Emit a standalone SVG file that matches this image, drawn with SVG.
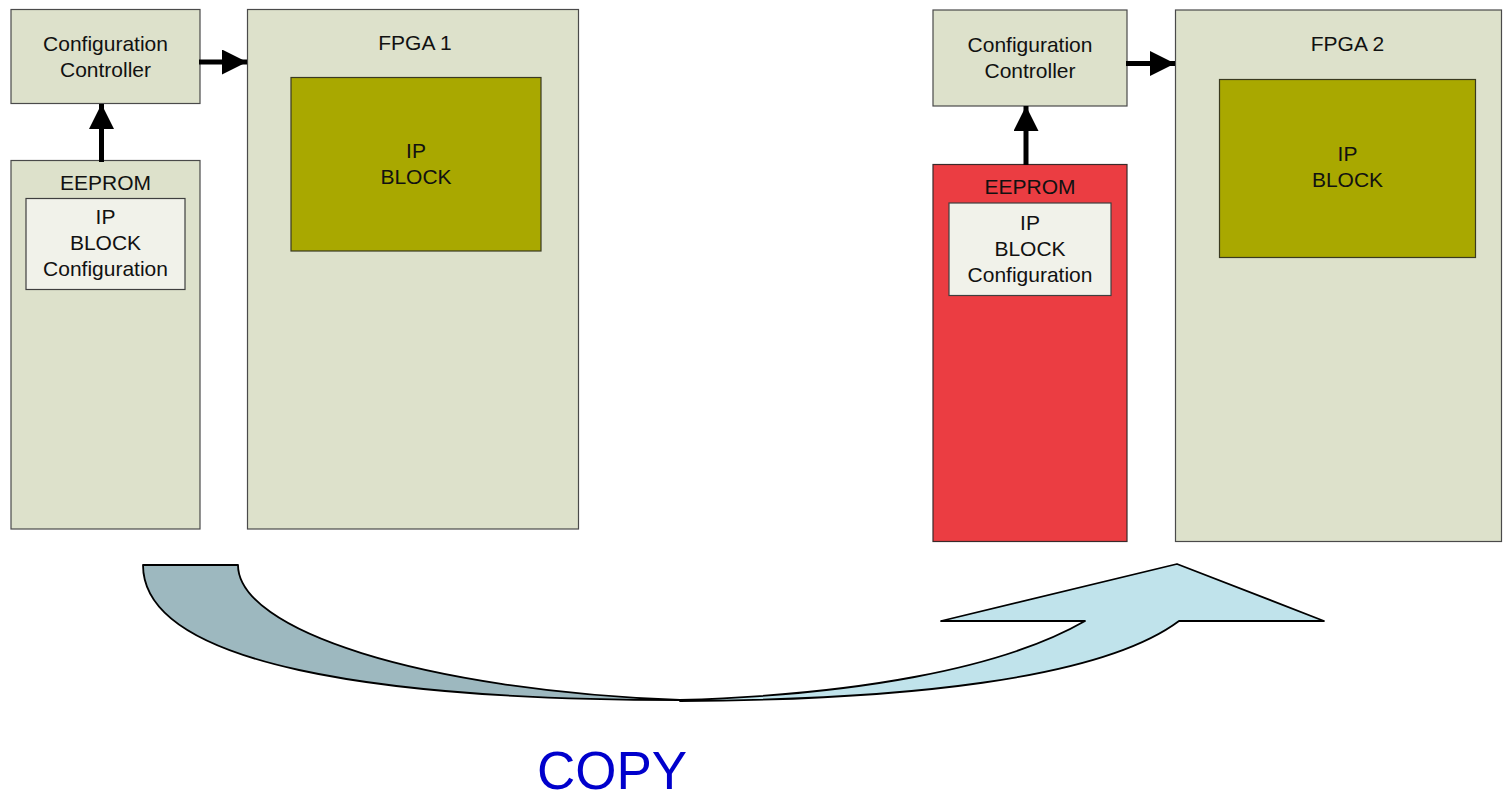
<svg xmlns="http://www.w3.org/2000/svg" width="1503" height="798" viewBox="0 0 1503 798">
<style>
.box{fill:#DDE1CB;stroke:#4a4a4a;stroke-width:1.2}
.red{fill:#EB3D42;stroke:#3a2a2a;stroke-width:1.2}
.cfg{fill:#F1F2EA;stroke:#3f3f3f;stroke-width:1.2}
.ip{fill:#A9A800;stroke:#3a3a20;stroke-width:1.2}
.t{font-family:"Liberation Sans",Arial,sans-serif;font-size:21px;fill:#111;text-anchor:middle}
.conn{stroke:#000;stroke-width:5;fill:none;marker-end:url(#ah)}
.copy{font-family:"Liberation Sans",Arial,sans-serif;font-size:53px;fill:#0000CC;text-anchor:middle}
</style>
<defs>
<marker id="ah" viewBox="0 0 10 10" refX="10" refY="5" markerWidth="5" markerHeight="5" orient="auto" markerUnits="strokeWidth">
<path d="M0,0 L10,5 L0,10 Z" fill="#000"/>
</marker>
</defs>
<rect width="1503" height="798" fill="#fff"/>

<g id="cc1">
<rect class="box" x="11" y="9.5" width="189" height="94"/>
<text class="t" x="105.5" y="50.5">Configuration</text>
<text class="t" x="105.5" y="76.5">Controller</text>
</g>
<g id="eeprom1">
<rect class="box" x="11" y="160.5" width="189" height="368.5"/>
<text class="t" x="105.5" y="190">EEPROM</text>
<rect class="cfg" x="26" y="198.5" width="159" height="91"/>
<text class="t" x="105.5" y="223.5">IP</text>
<text class="t" x="105.5" y="249.5">BLOCK</text>
<text class="t" x="105.5" y="275.5">Configuration</text>
</g>
<g id="fpga1">
<rect class="box" x="247.5" y="9.5" width="331" height="519.5"/>
<text class="t" x="415" y="50">FPGA 1</text>
<rect class="ip" x="291" y="77.5" width="250" height="173.5"/>
<text class="t" x="416" y="158">IP</text>
<text class="t" x="416" y="184">BLOCK</text>
</g>

<g id="cc2">
<rect class="box" x="933" y="10" width="194" height="96"/>
<text class="t" x="1030" y="51.5">Configuration</text>
<text class="t" x="1030" y="77.5">Controller</text>
</g>
<g id="eeprom2">
<rect class="red" x="933" y="164.5" width="194" height="377"/>
<text class="t" x="1030" y="194">EEPROM</text>
<rect class="cfg" x="949" y="203" width="162" height="92.5"/>
<text class="t" x="1030" y="229.5">IP</text>
<text class="t" x="1030" y="255.5">BLOCK</text>
<text class="t" x="1030" y="281.5">Configuration</text>
</g>
<g id="fpga2">
<rect class="box" x="1175.5" y="10" width="326" height="531.5"/>
<text class="t" x="1347.5" y="51">FPGA 2</text>
<rect class="ip" x="1219.5" y="79.5" width="256" height="178"/>
<text class="t" x="1347.5" y="161">IP</text>
<text class="t" x="1347.5" y="187">BLOCK</text>
</g>

<g id="connectors">
<line class="conn" x1="199" y1="62" x2="247" y2="62"/>
<line class="conn" x1="101.5" y1="162" x2="101.5" y2="104"/>
<line class="conn" x1="1126" y1="63.5" x2="1175" y2="63.5"/>
<line class="conn" x1="1026" y1="165" x2="1026" y2="106"/>
</g>

<g id="copy-arrow" stroke="#000" stroke-width="1.8" stroke-linejoin="round">
<path d="M143,565 L238,565 C238,630 420,690 680,700 C380,700 143,665 143,565 Z" fill="#9DB8BF"/>
<path d="M680,700 C850,695 1000,670 1085,621 L941,621 L1177,564 L1324,621 L1179,621 C1100,680 900,700 680,701 Z" fill="#C0E3EB"/>
</g>
<text class="copy" x="612" y="789">COPY</text>
</svg>
